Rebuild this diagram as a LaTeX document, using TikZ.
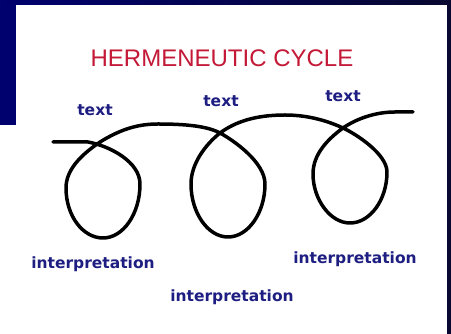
\documentclass[tikz,border=0pt]{standalone}
\usepackage{fontspec}
\newfontfamily\labfont{DejaVu Sans}
\newfontfamily\ttlfont{Liberation Sans}
\definecolor{slidenavy}{RGB}{0,0,110}
\definecolor{slidedark}{RGB}{8,8,48}
\definecolor{labblue}{RGB}{30,30,130}
\definecolor{ttlred}{RGB}{195,25,55}
\tikzset{
  lab/.style={inner sep=0pt, text=labblue, font=\labfont\bfseries\fontsize{15.5}{18}\selectfont},
  ttl/.style={inner sep=0pt, text=ttlred, font=\ttlfont\fontsize{24}{28}\selectfont},
  spiral/.style={line width=3.5pt, line cap=round, line join=round, black}
}
\begin{document}
\begin{tikzpicture}[x=1pt,y=1pt]
\useasboundingbox (0,0) rectangle (451,334);
\fill[white] (0,0) rectangle (451,334);
% slide background bands
\fill[slidenavy] (0,209) rectangle (16,334);
\shade[left color=slidenavy, right color=slidedark] (0,329) rectangle (451,334);
\fill[slidedark] (447,0) rectangle (451,334);
% title
\node[ttl] (title) at (222,276) {HERMENEUTIC CYCLE};
% spiral curve
\draw[spiral] (53,192) -- (88,192)
  .. controls (110,188) and (140,172) .. (140,150)
  .. controls (140,120) and (123,96) .. (103,96)
  .. controls (83,96) and (66,118) .. (66,146)
  .. controls (66,166) and (84,181) .. (100,192)
  .. controls (118,203) and (135,210) .. (158,210)
  .. controls (185,210) and (207,208) .. (220,201)
  .. controls (233,194) and (265,172) .. (265,150)
  .. controls (265,121) and (248,97) .. (228,97)
  .. controls (208,97) and (191,121) .. (191,150)
  .. controls (191,170) and (205,189) .. (220,201)
  .. controls (235,212) and (255,219) .. (285,219)
  .. controls (310,219) and (330,212) .. (343,206)
  .. controls (356,200) and (387,180) .. (387,162)
  .. controls (387,134) and (370,111) .. (350,111)
  .. controls (330,111) and (313,135) .. (313,160)
  .. controls (313,180) and (328,195) .. (343,206)
  .. controls (356,215) and (375,222) .. (395,222)
  -- (413,222);
% labels
\node[lab] (t1) at (95,224) {text};
\node[lab] (t2) at (221,233) {text};
\node[lab] (t3) at (343,238) {text};
\node[lab] (i1) at (93,70) {interpretation};
\node[lab] (i2) at (232,37) {interpretation};
\node[lab] (i3) at (355,75) {interpretation};
\end{tikzpicture}
\end{document}
